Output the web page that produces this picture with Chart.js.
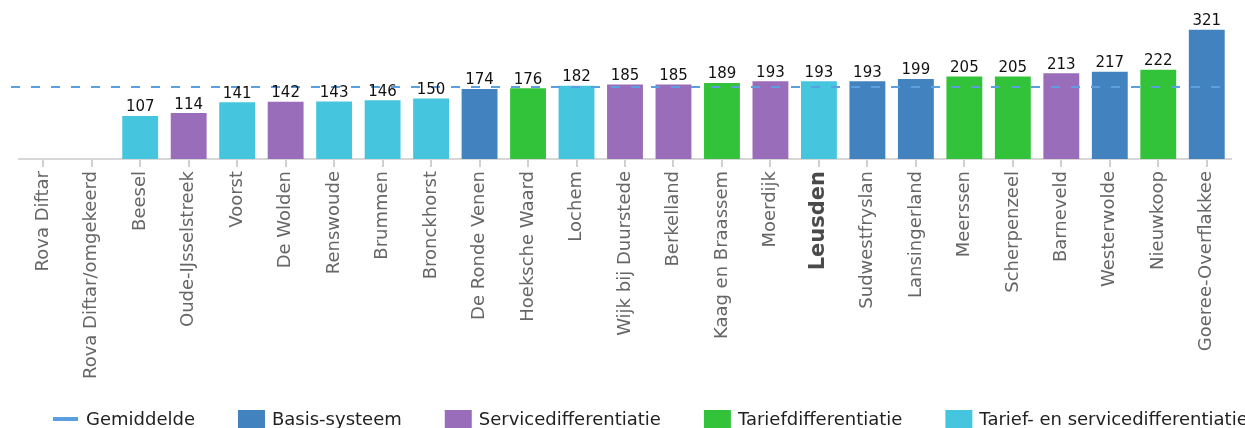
<!DOCTYPE html>
<html>
<head>
<meta charset="utf-8">
<script src="https://cdn.jsdelivr.net/npm/chart.js@4"></script>
<style>
    html, body { margin: 0; padding: 0; background: #fff; overflow: hidden; }
    #wrap { width: 1245px; height: 428px; }
</style>
</head>
<body>
<div id="wrap"><canvas id="chartGemeenten"></canvas></div>
<script>
const gemeenten = [
    "Rova Diftar", "Rova Diftar/omgekeerd", "Beesel", "Oude-IJsselstreek", "Voorst",
    "De Wolden", "Renswoude", "Brummen", "Bronckhorst", "De Ronde Venen",
    "Hoeksche Waard", "Lochem", "Wijk bij Duurstede", "Berkelland", "Kaag en Braassem",
    "Moerdijk", "Leusden", "Sudwestfryslan", "Lansingerland", "Meerssen",
    "Scherpenzeel", "Barneveld", "Westerwolde", "Nieuwkoop", "Goeree-Overflakkee"
];
const waarden = [
    null, null, 107, 114, 141,
    142, 143, 146, 150, 174,
    176, 182, 185, 185, 189,
    193, 193, 193, 199, 205,
    205, 213, 217, 222, 321
];
// systeem per gemeente (index in systemen)
const systeemPerGemeente = [
    0, 0, 3, 1, 3,
    1, 3, 3, 3, 0,
    2, 3, 1, 1, 2,
    1, 3, 0, 0, 2,
    2, 1, 0, 2, 0
];
const systemen = ["Basis-systeem", "Servicedifferentiatie", "Tariefdifferentiatie", "Tarief- en servicedifferentiatie"];
const kleuren = ["#4282bf", "#9a6dba", "#33c33a", "#45c6de"];
const gemiddelde = 179;
const gemiddeldeLabel = "Gemiddelde";
const gemiddeldeKleur = "#5a9fe0";
const uitgelicht = "Leusden";

const FONT = "'DejaVu Sans', Verdana, sans-serif";

document.addEventListener("DOMContentLoaded", () => {
    const ctx = document.getElementById("chartGemeenten");

    const datasets = systemen.map((s, si) => ({
        label: s,
        data: waarden.map((v, i) => systeemPerGemeente[i] === si ? v : null),
        backgroundColor: kleuren[si],
        borderWidth: 0,
        grouped: false,
        barPercentage: 0.74,
        categoryPercentage: 1
    }));

    // gemiddelde-lijn (gestippeld) over de bars
    const gemiddeldePlugin = {
        id: 'gemiddeldeLijn',
        afterDatasetsDraw(chart) {
            const { ctx: c, chartArea: a, scales: { y } } = chart;
            const py = y.getPixelForValue(gemiddelde);
            c.save();
            c.strokeStyle = gemiddeldeKleur;
            c.lineWidth = 2;
            c.setLineDash([9, 11]);
            c.beginPath();
            c.moveTo(a.left - 8, py);
            c.lineTo(a.right - 11, py);
            c.stroke();
            c.restore();
        }
    };

    // waarden boven de bars
    const waardeLabelsPlugin = {
        id: 'waardeLabels',
        afterDatasetsDraw(chart) {
            const c = chart.ctx;
            c.save();
            c.font = `15px ${FONT}`;
            c.fillStyle = '#111';
            c.textAlign = 'center';
            c.textBaseline = 'bottom';
            chart.data.datasets.forEach((ds, di) => {
                chart.getDatasetMeta(di).data.forEach((bar, i) => {
                    const v = ds.data[i];
                    if (v == null) return;
                    c.fillText(String(v), bar.x, bar.y - 1);
                });
            });
            c.restore();
        }
    };

    // legenda onderaan, zelf getekend
    const legendaPlugin = {
        id: 'legenda',
        afterDraw(chart) {
            const c = chart.ctx;
            const items = [{ text: gemiddeldeLabel, kleur: gemiddeldeKleur, lijn: true }]
                .concat(systemen.map((s, i) => ({ text: s, kleur: kleuren[i], lijn: false })));
            let x = 53;
            const yMid = 419;
            c.save();
            c.font = `18px ${FONT}`;
            c.textBaseline = 'middle';
            c.textAlign = 'left';
            items.forEach(it => {
                if (it.lijn) {
                    c.strokeStyle = it.kleur;
                    c.lineWidth = 4;
                    c.beginPath();
                    c.moveTo(x, yMid);
                    c.lineTo(x + 25, yMid);
                    c.stroke();
                    x += 25 + 8;
                } else {
                    c.fillStyle = it.kleur;
                    c.fillRect(x, yMid - 9, 27, 18);
                    x += 27 + 7;
                }
                c.fillStyle = '#222';
                c.fillText(it.text, x, yMid + 1);
                x += c.measureText(it.text).width + 43;
            });
            c.restore();
        }
    };

    new Chart(ctx, {
        type: 'bar',
        data: { labels: gemeenten, datasets },
        options: {
            responsive: true,
            maintainAspectRatio: false,
            animation: false,
            layout: { padding: { top: 0, left: 19, right: 14, bottom: 0 } },
            plugins: { legend: { display: false }, tooltip: { enabled: false } },
            scales: {
                x: {
                    z: 1,
                    afterFit(scale) { scale.height = 269; },
                    grid: { display: true, drawOnChartArea: false, offset: false, tickLength: 8, color: '#d0d0d0', lineWidth: 2 },
                    border: { display: true, color: 'rgba(205,205,205,0.8)', width: 2 },
                    ticks: {
                        autoSkip: false,
                        minRotation: 90,
                        maxRotation: 90,
                        padding: 4,
                        color: c => gemeenten[c.index] === uitgelicht ? '#4a4a4a' : '#666',
                        font: c => gemeenten[c.index] === uitgelicht
                            ? { family: FONT, size: 21, weight: 'bold' }
                            : { family: FONT, size: 18 }
                    }
                },
                y: { display: false, beginAtZero: true, min: 0, max: 395 }
            }
        },
        plugins: [gemiddeldePlugin, waardeLabelsPlugin, legendaPlugin]
    });
});
</script>
</body>
</html>
